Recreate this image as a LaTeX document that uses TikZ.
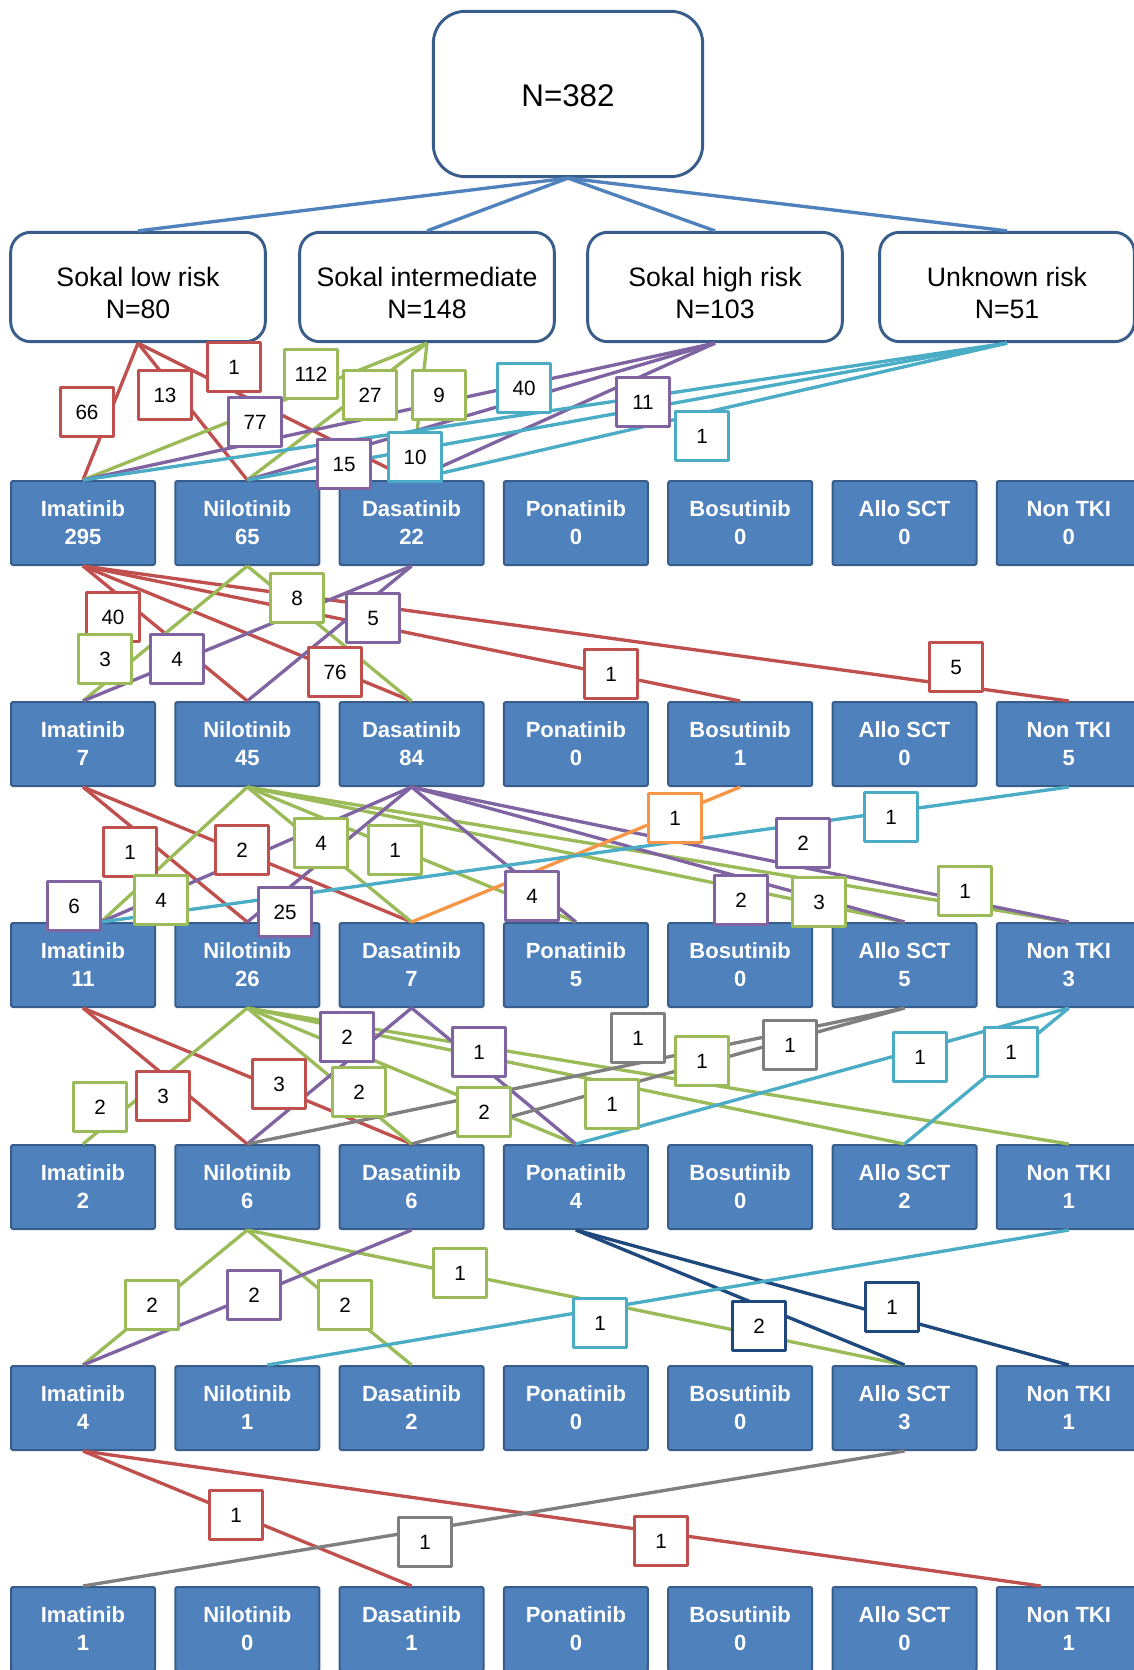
\documentclass[tikz,border=0pt]{standalone}
\usepackage{fontspec}
\setmainfont{Liberation Sans}

\definecolor{cred}{HTML}{C0504D}
\definecolor{cgreen}{HTML}{9BBB59}
\definecolor{cpurple}{HTML}{8064A2}
\definecolor{caqua}{HTML}{4BACC6}
\definecolor{corange}{HTML}{F79646}
\definecolor{cblue}{HTML}{4F81BD}
\definecolor{cedge}{HTML}{385D8A}
\definecolor{cnavy}{HTML}{1F497D}
\definecolor{cgray}{HTML}{7F7F7F}

\newcommand{\drugfont}{\fontsize{16.5}{21}\selectfont\bfseries}
\newcommand{\numfont}{\fontsize{15.5}{18}\selectfont}
\newcommand{\riskfont}{\fontsize{20}{24}\selectfont}

% from / to / colour / label x / label y / count
\def\links{low/ima1.north/cred/87/412/66,
  low/nil1.north/cred/165/395/13,
  low/das1.north/cred/234/367/1,
  int/ima1.north/cgreen/311/374/112,
  int/nil1.north/cgreen/370/395/27,
  int/das1.north/cgreen/439/395/9,
  high/ima1.north/cpurple/255/422/77,
  high/nil1.north/cpurple/344/464/15,
  high/das1.north/cpurple/643/402/11,
  unk/ima1.north/caqua/524/388/40,
  unk/nil1.north/caqua/415/457/10,
  unk/das1.north/caqua/702/436/1,
  ima1/nil2.north/cred/113/617/40,
  ima1/das2.north/cred/335/672/76,
  ima1/bos2.north/cred/611/674/1,
  ima1/non2.north/cred/956/667/5,
  nil1/ima2.north/cgreen/105/659/3,
  nil1/das2.north/cgreen/297/598/8,
  das1/ima2.north/cpurple/177/659/4,
  das1/nil2.north/cpurple/373/618/5,
  ima2/nil3.north/cred/130/852/1,
  ima2/das3.north/cred/242/850/2,
  nil2/ima3in/cgreen/161/900/4,
  nil2/das3.north/cgreen/321/843/4,
  nil2/pon3.north/cgreen/395/850/1,
  nil2/sct3.north/cgreen/819/902/3,
  nil2/non3.north/cgreen/965/891/1,
  das2/ima3in/cpurple/74/906/6,
  das2/nil3.north/cpurple/285/912/25,
  das2/pon3.north/cpurple/532/896/4,
  das2/sct3.north/cpurple/741/900/2,
  das2/non3.north/cpurple/803/843/2,
  bos2/das3.north/corange/675/818/1,
  non2/ima3in/caqua/891/817/1,
  ima3/nil4.north/cred/163/1096/3,
  ima3/das4.north/cred/279/1084/3,
  nil3/ima4.north/cgreen/100/1107/2,
  nil3/das4.north/cgreen/359/1092/2,
  nil3/pon4.north/cgreen/484/1112/2,
  nil3/sct4.north/cgreen/612/1104/1,
  nil3/non4.north/cgreen/702/1061/1,
  das3/nil4.north/cpurple/347/1037/2,
  das3/pon4.north/cpurple/479/1052/1,
  sct3/nil4.north/cgray/638/1038/1,
  sct3/das4.north/cgray/790/1045/1,
  non3/pon4.north/caqua/920/1057/1,
  non3/sct4.north/caqua/1011/1052/1,
  nil4/ima5.north/cgreen/152/1305/2,
  nil4/das5.north/cgreen/345/1305/2,
  nil4/sct5.north/cgreen/460/1273/1,
  das4/ima5.north/cpurple/254/1295/2,
  pon4/sct5.north/cnavy/759/1326/2,
  pon4/non5.north/cnavy/892/1307/1,
  non4/nil5in/caqua/600/1323/1,
  ima5/das6.north/cred/236/1515/1,
  ima5/non6in/cred/661/1541/1,
  sct5/ima6.north/cgray/425/1542/1}

\begin{document}
\begin{tikzpicture}[x=0.75pt, y=-0.75pt, line join=round,
  drug/.style={draw=cedge, fill=cblue, line width=1.5pt, rounded corners=1.5pt,
    minimum width=108pt, minimum height=63pt, inner sep=0pt, text=white,
    align=center, font=\drugfont},
  risk/.style={draw=cedge, fill=white, line width=2.2pt, rounded corners=15pt,
    minimum width=191pt, minimum height=82pt},
  risktext/.style={align=center, inner sep=0pt, font=\riskfont},
  num/.style={draw=#1, fill=white, line width=2.5pt, minimum width=40pt,
    minimum height=37pt, inner sep=0pt, font=\numfont},
  flow/.style={draw=#1, line width=2.5pt}]

  \useasboundingbox (0,0) rectangle (1133,1670);

  % Cohort and risk groups
  \node[risk, minimum width=202pt, minimum height=124pt, rounded corners=24pt]
    (all) at (568,94) {};
  \node[risktext, font=\fontsize{23.5}{28}\selectfont] (alltxt)
    at ([yshift=-1.5pt]all.center) {N=382};
  \foreach \s/\xx/\nm/\v in {low/138/Sokal low risk/80, int/427/Sokal intermediate/148,
      high/715/Sokal high risk/103, unk/1007/Unknown risk/51} {
    \node[risk] (\s) at (\xx,287) {};
    \node[risktext] (\s txt) at ([yshift=-4.5pt]\s.center) {\nm\\N=\v};
  }

  % Lines of therapy
  \foreach \r/\yy/\va/\vb/\vc/\vd/\ve/\vf/\vg in {1/523/295/65/22/0/0/0/0,
      2/744/7/45/84/0/1/0/5, 3/965/11/26/7/5/0/5/3, 4/1187/2/6/6/4/0/2/1,
      5/1408/4/1/2/0/0/3/1, 6/1629/1/0/1/0/0/0/1}
    \foreach \n/\nm/\v [count=\i from 0] in {ima/Imatinib/\va, nil/Nilotinib/\vb,
        das/Dasatinib/\vc, pon/Ponatinib/\vd, bos/Bosutinib/\ve,
        sct/Allo SCT/\vf, non/Non TKI/\vg}
      \node[drug] (\n\r) at (83+164.3*\i,\yy) {\nm\\\v};

  % Off-centre end points
  \coordinate (ima3in) at ([xshift=13.5pt]ima3.north);
  \coordinate (nil5in) at ([xshift=15pt]nil5.north);
  \coordinate (non6in) at ([xshift=-21pt]non6.north);

  % Connectors
  \foreach \s in {low,int,high,unk}
    \draw[flow=cblue] (all.south) -- (\s.north);
  \foreach \s/\d/\c/\x/\y/\v in \links
    \draw[flow=\c] (\s.south) -- (\d);

  % Counts
  \foreach \s/\d/\c/\x/\y/\v [count=\k] in \links
    \node[num=\c] (cnt\k) at (\x,\y) {\v};

\end{tikzpicture}
\end{document}
